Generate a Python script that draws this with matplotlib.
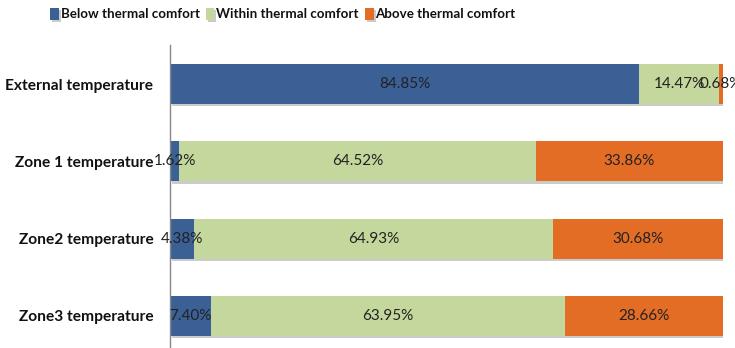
import matplotlib
matplotlib.use("Agg")
import matplotlib.pyplot as plt
import matplotlib.patheffects as pe
import numpy as np

categories = ["External temperature", "Zone 1 temperature", "Zone2 temperature", "Zone3 temperature"]
below = [84.85, 1.62, 4.38, 7.40]
within = [14.47, 64.52, 64.93, 63.95]
above = [0.68, 33.86, 30.68, 28.66]
series_names = ["Below thermal comfort", "Within thermal comfort", "Above thermal comfort"]
colors = ["#3A6096", "#C4D79C", "#E46D26"]

plt.rcParams['font.family'] = ['Lato', 'DejaVu Sans']

fig = plt.figure(figsize=(7.35, 3.48), dpi=100)
ax = fig.add_axes([170/735, 0, (723-170)/735, (348-45)/348])

y = np.arange(len(categories))
left = np.zeros(len(categories))
shadow = [pe.SimplePatchShadow(offset=(1.5, -1.5), shadow_rgbFace='#999999', alpha=0.5), pe.Normal()]
for vals, name, c in zip([below, within, above], series_names, colors):
    vals = np.array(vals)
    bars = ax.barh(y, vals, left=left, height=0.52, color=c, label=name)
    for b in bars:
        b.set_path_effects(shadow)
    for yi, l, v in zip(y, left, vals):
        ax.text(l + v/2, yi, f"{v:.2f}%", ha='center', va='center', fontsize=11, color='#222222')
    left = left + vals

ax.set_xlim(0, 100)
ax.set_ylim(3.414, -0.505)
ax.set_yticks(y)
ax.set_yticklabels(categories, fontsize=11.2, fontweight='bold', color='#111111')
ax.tick_params(axis='y', length=0, pad=12)
ax.set_xticks([])
for s in ['top', 'right', 'bottom']:
    ax.spines[s].set_visible(False)
ax.spines['left'].set_color('#888888')
ax.spines['left'].set_linewidth(1)

leg = fig.legend(loc='upper left', bbox_to_anchor=(38/735, 1.012), ncol=3, frameon=False,
                 prop={'size': 9.6, 'weight': 'bold'},
                 handlelength=0.65, handleheight=1.0, handletextpad=0.15, columnspacing=0.45)
for t in leg.get_texts():
    t.set_color('#111111')

fig.savefig("out.png", dpi=100)
